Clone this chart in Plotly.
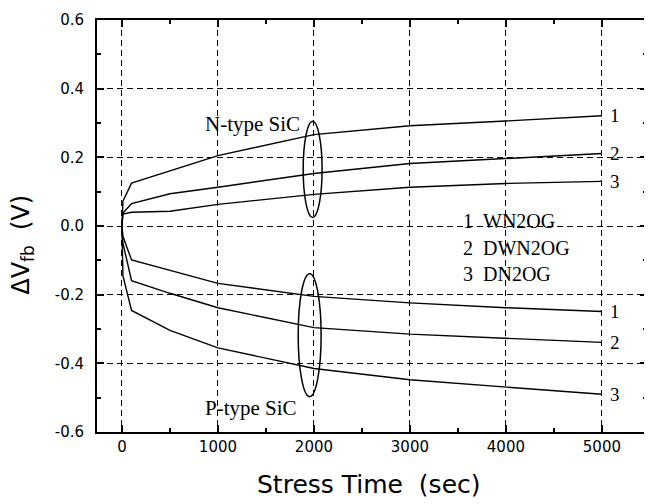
import plotly.graph_objects as go

# ---- data ----
t = [0, 10, 100, 500, 1000, 2000, 3000, 4000, 5000]
n_wn2og = [0, 0.072, 0.125, 0.161, 0.205, 0.266, 0.292, 0.306, 0.321]
n_dwn2og = [0, 0.038, 0.065, 0.094, 0.113, 0.153, 0.182, 0.197, 0.211]
n_dn2og = [0, 0.035, 0.040, 0.043, 0.063, 0.092, 0.113, 0.124, 0.130]
p_wn2og = [0, -0.030, -0.099, -0.130, -0.167, -0.205, -0.224, -0.238, -0.249]
p_dwn2og = [0, -0.050, -0.159, -0.196, -0.238, -0.296, -0.315, -0.328, -0.339]
p_dn2og = [0, -0.145, -0.246, -0.304, -0.355, -0.415, -0.448, -0.469, -0.490]

x_ticks = [0, 1000, 2000, 3000, 4000, 5000]
y_ticks = [-0.6, -0.4, -0.2, 0.0, 0.2, 0.4, 0.6]
y_ticklabels = ["-0.6", "-0.4", "-0.2", "0.0", "0.2", "0.4", "0.6"]
legend_rows = ["1  WN2OG", "2  DWN2OG", "3  DN2OG"]
series = [("1", n_wn2og), ("2", n_dwn2og), ("3", n_dn2og),
          ("1", p_wn2og), ("2", p_dwn2og), ("3", p_dn2og)]

fig = go.Figure()
for lab, ys in series:
    fig.add_trace(go.Scatter(x=t, y=ys, mode="lines",
                             line=dict(color="black", width=1.4),
                             showlegend=False, hoverinfo="skip"))

serif = "Liberation Serif"
sans = "DejaVu Sans"

# end labels
for lab, ys in series:
    fig.add_annotation(x=t[-1], y=ys[-1], text=lab, showarrow=False,
                       xanchor="left", xshift=6, yanchor="middle",
                       font=dict(family=serif, size=19, color="black"))

# white box behind legend text
fig.add_shape(type="rect", x0=3350, x1=4900, y0=-0.215, y1=0.100,
              fillcolor="white", line=dict(width=0), layer="below")

legend_y = [0.015, -0.063, -0.14]
for txt, yy in zip(legend_rows, legend_y):
    fig.add_annotation(x=3530, y=yy, text=txt.replace("  ", "&nbsp;&nbsp;"),
                       showarrow=False, xanchor="left", yanchor="middle",
                       font=dict(family=serif, size=20, color="black"))

# ellipses
fig.add_shape(type="circle", x0=1888, x1=2085, y0=0.025, y1=0.305,
              line=dict(color="black", width=1.5))
fig.add_shape(type="circle", x0=1836, x1=2075, y0=-0.497, y1=-0.139,
              line=dict(color="black", width=1.5))

fig.add_annotation(x=1880, y=0.297, text="N-type SiC", showarrow=False,
                   xanchor="right", yanchor="middle",
                   font=dict(family=serif, size=21, color="black"))
fig.add_annotation(x=1840, y=-0.53, text="P-type SiC", showarrow=False,
                   xanchor="right", yanchor="middle",
                   font=dict(family=serif, size=21, color="black"))

# axis titles
fig.add_annotation(xref="paper", yref="paper", x=0.4946, y=-0.128,
                   text="Stress Time&nbsp;&nbsp;(sec)",
                   showarrow=False, xanchor="center", yanchor="middle",
                   font=dict(family=sans, size=25, color="black"))
fig.add_annotation(xref="paper", yref="paper", x=-0.136, y=0.455,
                   text="ΔV<sub>fb</sub>&nbsp;&nbsp;(V)",
                   textangle=-90, showarrow=False, xanchor="center", yanchor="middle",
                   font=dict(family=sans, size=24, color="black"))

axis_common = dict(showline=True, linecolor="black", linewidth=2, mirror="ticks",
                   ticks="inside", ticklen=7, tickwidth=2, tickcolor="black",
                   showgrid=True, gridcolor="black", gridwidth=1, griddash="6px,4px",
                   zeroline=False,
                   tickfont=dict(family=sans, size=15, color="black"))

fig.update_xaxes(range=[-260, 5470], tickvals=x_ticks,
                 minor=dict(dtick=500, ticks="inside", ticklen=4, tickwidth=2,
                            tickcolor="black", showgrid=False),
                 **axis_common)
fig.update_yaxes(range=[-0.6, 0.6], tickvals=y_ticks, ticktext=y_ticklabels,
                 minor=dict(dtick=0.1, ticks="inside", ticklen=4, tickwidth=2,
                            tickcolor="black", showgrid=False),
                 ticklabelstandoff=8,
                 **axis_common)

# the page body adds an 8px offset; compensate so the plot area lands where the reference has it
fig.update_layout(width=644, height=496,
                  margin=dict(l=89, r=3, t=9, b=72),
                  plot_bgcolor="white", paper_bgcolor="white")

fig.write_html("out.html")
